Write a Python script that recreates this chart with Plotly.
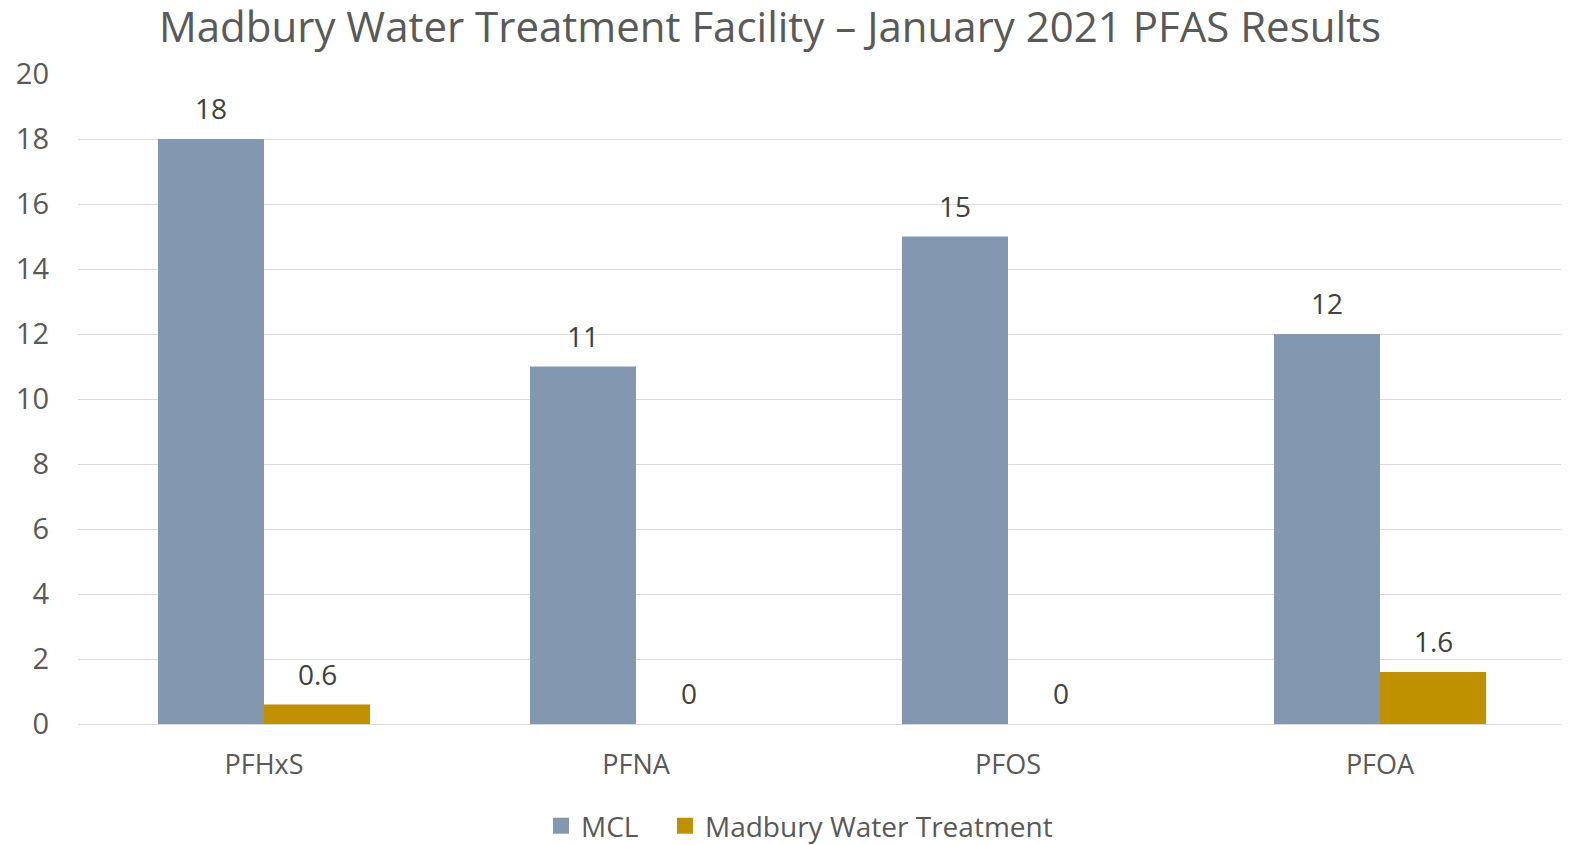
import plotly.graph_objects as go

categories = ["PFHxS", "PFNA", "PFOS", "PFOA"]
mcl = [18, 11, 15, 12]
madbury = [0.6, 0, 0, 1.6]
y_ticks = [0, 2, 4, 6, 8, 10, 12, 14, 16, 18, 20]

FONT = "Open Sans"
C_MCL = "#8497B0"
C_MAD = "#BF9000"

W, H = 1561, 837
L, R, T, B = 70, 3, 66, 121
PW = W - L - R

fig = go.Figure()
fig.add_trace(go.Bar(name="MCL", x=categories, y=mcl, marker_color=C_MCL,
                     marker_line_width=0, showlegend=False))
fig.add_trace(go.Bar(name="Madbury Water Treatment", x=categories, y=madbury,
                     marker_color=C_MAD, marker_line_width=0, showlegend=False))
# legend entries with larger square swatches, one legend each for spacing
for name, col, lg in (("MCL", C_MCL, "legend"), ("Madbury Water Treatment", C_MAD, "legend2")):
    fig.add_trace(go.Scatter(x=[None], y=[None], mode="markers", name=name, legend=lg,
                             marker=dict(symbol="square", size=16, color=col)))

annotations = []
for vals, shift in ((mcl, -53), (madbury, 53)):
    for c, v in zip(categories, vals):
        annotations.append(dict(x=c, y=v, xref="x", yref="y", text=str(v),
                                showarrow=False, xshift=shift, yshift=10,
                                yanchor="bottom",
                                font=dict(family=FONT, size=28, color="#404040")))

legend_common = dict(orientation="h", xanchor="left", y=(724-826)/650, yanchor="middle",
                     font=dict(family=FONT, size=28, color="#595959"), itemwidth=30,
                     bgcolor="rgba(0,0,0,0)")

fig.update_layout(
    width=W, height=H,
    margin=dict(l=L, r=R, t=T, b=B, autoexpand=False),
    paper_bgcolor="white", plot_bgcolor="white",
    barmode="group", bargap=0.43, bargroupgap=0,
    title=dict(text="Madbury Water Treatment Facility – January 2021 PFAS Results",
               x=762/W, xanchor="center", xref="container",
               y=1-19/H, yanchor="middle", yref="container",
               font=dict(family=FONT, size=42, color="#595959")),
    xaxis=dict(showgrid=False, showline=False, ticks="", ticklabelstandoff=22,
               tickfont=dict(family=FONT, size=27, color="#595959")),
    yaxis=dict(range=[0, 20], tickvals=y_ticks, showgrid=True, gridcolor="#D9D9D9",
               gridwidth=1, zeroline=True, zerolinecolor="#D9D9D9", zerolinewidth=1,
               showline=False, ticks="", ticklabelstandoff=28,
               tickfont=dict(family=FONT, size=29, color="#595959")),
    legend=dict(x=(533-L)/PW, **legend_common),
    legend2=dict(x=(657-L)/PW, **legend_common),
    showlegend=True,
    annotations=annotations,
)
fig.write_html("out.html")
